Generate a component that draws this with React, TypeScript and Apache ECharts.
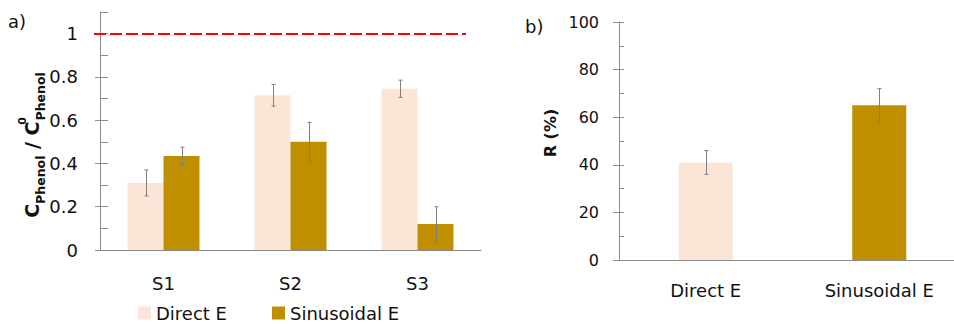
import React, { useEffect, useRef } from 'react';
import * as echarts from 'echarts';

// ---- data: panel a) ----
const categoriesA = ['S1', 'S2', 'S3'];
const directA = [0.31, 0.715, 0.745];
const directErrA = [0.06, 0.05, 0.04];
const sinA = [0.435, 0.5, 0.12];
const sinErrA = [0.04, 0.09, 0.08];
const yTicksA = [0, 0.2, 0.4, 0.6, 0.8, 1];
const yMinorStepA = 0.1;
const yMaxA = 1.1;
const refLineA = 1;

// ---- data: panel b) ----
const categoriesB = ['Direct E', 'Sinusoidal E'];
const valuesB = [41, 65];
const errB = [5, 7];
const yTicksB = [0, 20, 40, 60, 80, 100];
const yMinorStepB = 10;
const yMaxB = 100;

const seriesNames = ['Direct E', 'Sinusoidal E'];
const colors = ['#FBE5D6', '#BF8F00'];

const FONT = 'DejaVu Sans';
const AXIS_COLOR = '#8C8C8C';
const TEXT_COLOR = '#111111';
const BAR_W_A = 36;
const BAR_W_B = 54;

const makeErr = (offset: number) => (params: any, api: any) => {
  const i = api.value(0);
  const v = api.value(1);
  const e = api.value(2);
  const top = api.coord([i, v + e]);
  const bot = api.coord([i, v - e]);
  const x = Math.round(top[0] + offset) + 0.5;
  const cap = 2;
  const style = { stroke: '#7F7F7F', lineWidth: 1 };
  return {
    type: 'group',
    children: [
      { type: 'line', shape: { x1: x, y1: top[1], x2: x, y2: bot[1] }, style },
      { type: 'line', shape: { x1: x - cap, y1: top[1], x2: x + cap, y2: top[1] }, style },
      { type: 'line', shape: { x1: x - cap, y1: bot[1], x2: x + cap, y2: bot[1] }, style },
    ],
  };
};

export default function App() {
  const ref = useRef<HTMLDivElement>(null);
  useEffect(() => {
    if (!ref.current) return;
    const chart = echarts.init(ref.current, null, { renderer: 'svg' });
    const option: any = {
      animation: false,
      backgroundColor: '#ffffff',
      textStyle: { fontFamily: FONT },
      grid: [
        { left: 100, top: 12, width: 381, height: 238, outerBoundsMode: 'none' },
        { left: 619, top: 22, width: 347, height: 238, outerBoundsMode: 'none' },
      ],
      legend: {
        data: seriesNames,
        left: 138,
        top: 304,
        padding: 0,
        icon: 'rect',
        itemWidth: 13,
        itemHeight: 13,
        itemGap: 45,
        selectedMode: false,
        textStyle: { fontSize: 18, color: TEXT_COLOR, fontFamily: FONT },
      },
      xAxis: [
        {
          type: 'category',
          gridIndex: 0,
          data: categoriesA,
          axisTick: { show: false },
          axisLine: { lineStyle: { color: AXIS_COLOR, width: 1 } },
          axisLabel: { fontSize: 18, color: TEXT_COLOR, margin: 24, fontFamily: FONT },
        },
        {
          type: 'category',
          gridIndex: 1,
          data: categoriesB,
          axisTick: { show: false },
          axisLine: { lineStyle: { color: AXIS_COLOR, width: 1 } },
          axisLabel: { fontSize: 18, color: TEXT_COLOR, margin: 21, fontFamily: FONT },
        },
      ],
      yAxis: [
        {
          type: 'value',
          gridIndex: 0,
          position: 'left',
          min: 0,
          max: yMaxA,
          axisLine: { show: true, lineStyle: { color: AXIS_COLOR, width: 1 } },
          axisTick: { show: true, length: 5, customValues: yTicksA, lineStyle: { color: AXIS_COLOR } },
          axisLabel: {
            customValues: yTicksA,
            fontSize: 18,
            color: TEXT_COLOR,
            margin: 22,
            fontFamily: FONT,
            formatter: (v: number) => String(Math.round(v * 10) / 10),
          },
          splitLine: { show: false },
        },
        {
          type: 'value',
          gridIndex: 0,
          position: 'left',
          min: 0,
          max: yMaxA,
          interval: yMinorStepA,
          axisLine: { show: false },
          axisTick: { show: true, inside: true, length: 8, lineStyle: { color: AXIS_COLOR } },
          axisLabel: { show: false },
          splitLine: { show: false },
        },
        {
          type: 'value',
          gridIndex: 1,
          position: 'left',
          min: 0,
          max: yMaxB,
          axisLine: { show: true, lineStyle: { color: AXIS_COLOR, width: 1 } },
          axisTick: { show: true, length: 6, customValues: yTicksB, lineStyle: { color: AXIS_COLOR } },
          axisLabel: { customValues: yTicksB, fontSize: 16, color: TEXT_COLOR, margin: 20, fontFamily: FONT },
          splitLine: { show: false },
        },
        {
          type: 'value',
          gridIndex: 1,
          position: 'left',
          min: 0,
          max: yMaxB,
          interval: yMinorStepB,
          axisLine: { show: false },
          axisTick: { show: true, inside: true, length: 5, lineStyle: { color: AXIS_COLOR } },
          axisLabel: { show: false },
          splitLine: { show: false },
        },
      ],
      series: [
        {
          name: seriesNames[0],
          type: 'bar',
          xAxisIndex: 0,
          yAxisIndex: 0,
          data: directA,
          barWidth: BAR_W_A,
          barGap: '0%',
          itemStyle: { color: colors[0] },
          markLine: {
            silent: true,
            symbol: ['none', 'none'],
            label: { show: false },
            lineStyle: { color: '#FF0000', width: 2, type: [12, 4] },
            data: [[{ x: 94, yAxis: refLineA }, { x: 466, yAxis: refLineA }]],
          },
        },
        {
          name: seriesNames[1],
          type: 'bar',
          xAxisIndex: 0,
          yAxisIndex: 0,
          data: sinA,
          barWidth: BAR_W_A,
          barGap: '0%',
          itemStyle: { color: colors[1] },
        },
        {
          name: 'errDirect',
          type: 'custom',
          xAxisIndex: 0,
          yAxisIndex: 0,
          z: 10,
          renderItem: makeErr(-BAR_W_A / 2),
          data: directA.map((v, i) => [i, v, directErrA[i]]),
        },
        {
          name: 'errSin',
          type: 'custom',
          xAxisIndex: 0,
          yAxisIndex: 0,
          z: 10,
          renderItem: makeErr(BAR_W_A / 2),
          data: sinA.map((v, i) => [i, v, sinErrA[i]]),
        },
        {
          name: 'R',
          type: 'bar',
          xAxisIndex: 1,
          yAxisIndex: 2,
          barWidth: BAR_W_B,
          data: valuesB.map((v, i) => ({ value: v, itemStyle: { color: colors[i] } })),
        },
        {
          name: 'errR',
          type: 'custom',
          xAxisIndex: 1,
          yAxisIndex: 2,
          z: 10,
          renderItem: makeErr(0),
          data: valuesB.map((v, i) => [i, v, errB[i]]),
        },
      ],
      graphic: [
        {
          type: 'text',
          x: 8,
          y: 21,
          style: { text: 'a)', fontSize: 18, fontFamily: FONT, fill: TEXT_COLOR, align: 'left', verticalAlign: 'middle' },
        },
        {
          type: 'text',
          x: 525,
          y: 26,
          style: { text: 'b)', fontSize: 18, fontFamily: FONT, fill: TEXT_COLOR, align: 'left', verticalAlign: 'middle' },
        },
        {
          type: 'text',
          x: 550,
          y: 133,
          rotation: Math.PI / 2,
          style: {
            text: 'R (%)',
            fontSize: 16,
            fontWeight: 'bold',
            fontFamily: FONT,
            fill: TEXT_COLOR,
            align: 'center',
            verticalAlign: 'middle',
          },
        },
        {
          type: 'text',
          x: 32,
          y: 145,
          rotation: Math.PI / 2,
          style: {
            text: '{m|C}{sb|Phenol}{m| / C}{sp|0}{sb|Phenol}',
            align: 'center',
            verticalAlign: 'middle',
            fill: TEXT_COLOR,
            fontFamily: FONT,
            rich: {
              m: { fontSize: 19, fontWeight: 'bold', fontFamily: FONT, fill: TEXT_COLOR, lineHeight: 30 },
              sb: { fontSize: 12.5, fontWeight: 'bold', fontFamily: FONT, fill: TEXT_COLOR, lineHeight: 13, verticalAlign: 'bottom' },
              sp: { fontSize: 11, fontWeight: 'bold', fontFamily: FONT, fill: TEXT_COLOR, lineHeight: 20, verticalAlign: 'top', width: 1 },
            },
          },
        },
      ],
    };
    chart.setOption(option);
    return () => chart.dispose();
  }, []);
  return <div ref={ref} style={{ position: 'fixed', left: 0, top: 0, width: 954, height: 324 }} />;
}
